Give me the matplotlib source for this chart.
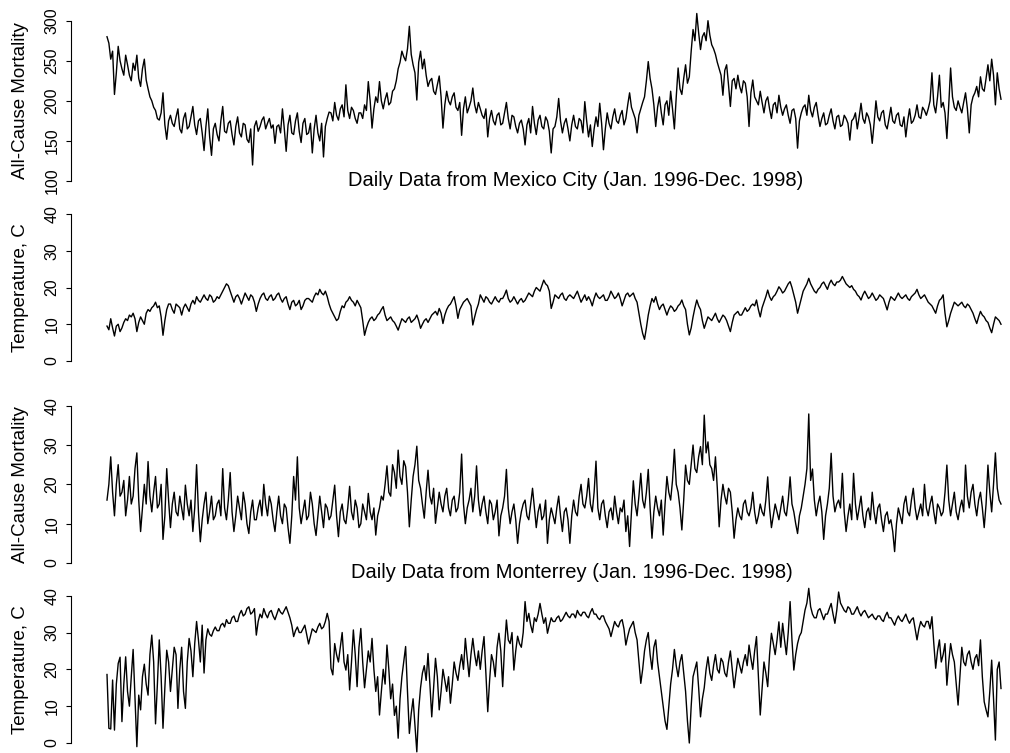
import numpy as np
import matplotlib.pyplot as plt

plt.rcParams['font.family'] = ['Liberation Sans', 'DejaVu Sans']

# daily series Jan 1996 - Dec 1998 (about one value every 2.3 days)
mex_mort = [
    280, 272, 252, 262, 208, 235, 268, 250, 240, 232, 257, 245, 232, 225, 247, 238, 257, 228, 218, 240,
    252, 226, 215, 205, 200, 192, 188, 178, 176, 185, 210, 170, 152, 175, 182, 172, 168, 180, 190, 165,
    160, 178, 185, 165, 168, 180, 193, 170, 158, 175, 178, 160, 138, 168, 190, 155, 132, 165, 172, 158,
    150, 175, 193, 162, 160, 172, 175, 158, 145, 168, 180, 160, 155, 172, 170, 152, 148, 165, 120, 168,
    175, 162, 168, 176, 180, 165, 172, 178, 166, 170, 147, 168, 170, 160, 190, 165, 137, 170, 182, 160,
    158, 175, 185, 162, 148, 172, 178, 158, 160, 172, 135, 165, 182, 160, 150, 172, 130, 168, 178, 186,
    185, 175, 198, 182, 176, 190, 195, 180, 220, 188, 178, 192, 188, 178, 172, 185, 185, 178, 195, 188,
    224, 200, 166, 190, 205, 198, 224, 200, 190, 202, 210, 195, 198, 212, 215, 225, 240, 248, 262, 255,
    250, 265, 293, 258, 245, 235, 201, 248, 262, 240, 252, 232, 218, 225, 228, 212, 208, 220, 231, 205,
    166, 195, 212, 200, 195, 205, 210, 192, 188, 198, 157, 190, 205, 185, 192, 200, 216, 195, 185, 198,
    190, 182, 178, 190, 155, 178, 188, 175, 170, 182, 185, 170, 172, 185, 198, 178, 165, 182, 180, 168,
    160, 172, 176, 165, 145, 170, 178, 160, 193, 172, 158, 176, 182, 168, 165, 180, 175, 162, 135, 165,
    168, 180, 203, 175, 160, 172, 178, 165, 150, 170, 182, 168, 165, 178, 175, 160, 199, 175, 155, 170,
    143, 165, 180, 168, 197, 172, 139, 165, 185, 172, 165, 180, 190, 175, 172, 182, 188, 170, 178, 195,
    210, 192, 185, 178, 160, 182, 190, 198, 205, 225, 249, 228, 215, 195, 168, 192, 205, 185, 170, 195,
    200, 182, 212, 190, 165, 205, 241, 215, 208, 228, 245, 222, 230, 262, 289, 275, 309, 285, 264, 280,
    285, 275, 300, 282, 270, 265, 258, 248, 240, 232, 207, 238, 245, 220, 193, 225, 228, 215, 232, 218,
    210, 225, 222, 205, 168, 210, 226, 205, 200, 195, 212, 198, 185, 200, 205, 190, 178, 195, 198, 185,
    207, 192, 182, 190, 195, 182, 172, 188, 190, 178, 141, 175, 185, 192, 195, 182, 207, 188, 180, 192,
    198, 182, 168, 178, 185, 170, 172, 182, 190, 175, 165, 180, 182, 168, 170, 182, 178, 172, 151, 175,
    178, 185, 165, 180, 197, 178, 172, 185, 180, 170, 147, 172, 200, 180, 175, 185, 188, 170, 165, 178,
    192, 175, 172, 182, 185, 170, 168, 180, 155, 175, 190, 172, 175, 182, 195, 180, 178, 192, 188, 182,
    190, 200, 235, 195, 185, 205, 232, 192, 198, 185, 153, 195, 241, 205, 192, 188, 200, 192, 185, 198,
    210, 190, 160, 195, 205, 210, 218, 205, 230, 215, 212, 228, 245, 225, 252, 232, 195, 235, 215, 202,
]
mex_temp = [
    9.5, 8.5, 11.5, 9, 6.8, 9.5, 10, 8, 9, 10.5, 11.5, 11, 12.5, 12, 13, 11.5, 8, 10.5, 12, 11,
    10, 13, 14, 13.5, 14.5, 15, 16, 14.5, 15, 12, 7, 11, 14, 15.5, 15.5, 14, 13, 15.5, 15, 14.5,
    12.5, 14.5, 15.5, 14.5, 13.5, 15.5, 16.5, 15.5, 17.5, 16.5, 16, 17, 18, 17, 16.5, 18, 17.5, 16, 16.5, 17.5,
    17, 18, 19, 20, 21, 20.5, 19, 17.5, 16, 17.5, 18, 17, 15.5, 17, 18.5, 17.5, 16.5, 18, 17.5, 16,
    13.5, 15.5, 17, 18, 18.5, 17, 16.5, 17.5, 18, 16.5, 17, 18, 18.5, 17, 16, 17, 17.5, 15.5, 14, 16,
    16.5, 15, 15.5, 16.5, 14, 15, 16.5, 17, 17, 16.5, 16, 17.5, 18.5, 18, 19.5, 18.5, 18, 19, 17.5, 15.5,
    14, 13, 12, 11, 11.5, 13.5, 15, 14.5, 16, 16.5, 17.5, 16.5, 16, 15, 16.5, 15.5, 14.5, 11, 7, 9,
    10.5, 11.5, 12, 11, 11.5, 12.5, 13, 14, 14.8, 12.5, 11, 11.5, 12, 11, 10.5, 9.5, 8.4, 10, 11.5, 11,
    10.5, 11.5, 12, 10.5, 11, 11.5, 12.5, 11, 8.9, 10, 11, 11.5, 10.5, 11.5, 12.5, 13, 13.5, 12.5, 14.3, 13,
    10.2, 12.5, 14, 15, 15.5, 16.5, 17.5, 15, 11.6, 14, 15, 16, 16.5, 17, 16, 15, 9.8, 12, 14, 15.5,
    18, 17, 16, 17.5, 17, 16, 15.5, 16.5, 17.5, 16.5, 16, 17, 17, 18, 19.3, 17, 16, 16.5, 17.5, 16.5,
    15.5, 16.5, 17, 16, 16.5, 17.5, 18.5, 18, 17.5, 19, 20, 19.5, 19, 20.5, 22, 21, 20.5, 19, 14.3, 16,
    18, 17.5, 17, 18, 18.5, 17, 16.5, 17.5, 18, 17.5, 17, 18, 19, 17.5, 16, 17, 18, 16.5, 17.5, 16.5,
    15, 17, 18.5, 17.5, 17, 17.5, 18, 16.5, 16.5, 17.5, 19, 18, 17, 17.5, 18.5, 17, 15, 16.5, 18, 18.5,
    17.5, 18, 18.5, 17, 16, 13, 10, 7.5, 5.9, 9, 12.5, 15, 17, 16, 17.5, 15.5, 14, 15, 15.5, 14,
    12.5, 14, 15, 14.5, 13.5, 14, 15, 15.5, 16.6, 15, 14, 10, 7.1, 9, 12, 14.5, 16.6, 15, 14, 11,
    8.9, 10.5, 12, 11.5, 11, 12, 13, 11.5, 10.5, 11.5, 12.5, 12, 11, 9.5, 8, 10.5, 12.5, 13, 13.5, 12.5,
    12.5, 13.5, 14.5, 13.5, 14, 15, 15.5, 15, 16.6, 14, 12, 14.5, 16, 17.5, 19.3, 17.5, 16.5, 17.5, 18, 19,
    20.2, 19.5, 18.5, 19, 20, 21, 21.6, 20, 18, 16, 13, 15, 17, 19, 20, 21, 22.5, 21, 20, 19,
    18.5, 19.5, 20, 21, 21.5, 20.5, 19.5, 21, 22, 21, 20.5, 21.5, 21.5, 22, 23, 22, 21, 20.5, 20, 20.5,
    19.5, 19, 18, 17.5, 16.6, 18, 19, 18, 17, 17.5, 18.5, 17.5, 16.5, 17, 18, 17.5, 17, 15.5, 13.9, 16,
    17.5, 17, 16.5, 17.5, 18.5, 17.5, 17, 17.5, 18, 17, 16.5, 17.5, 18, 18.5, 19.5, 18, 17, 17.5, 18, 17,
    16, 15.5, 15, 14, 13, 15, 16.5, 17, 18, 13, 9.3, 11, 13, 14.5, 16, 15.5, 15, 15.5, 16, 15,
    14.5, 15.5, 15, 14, 13, 11.5, 10.2, 12, 13.5, 12.5, 12, 11, 10.5, 9, 7.7, 10, 12, 11.5, 11, 10,
]
mty_mort = [
    16, 20, 27, 18, 12, 20, 25, 17, 18, 21, 12, 16, 22, 15, 17, 24, 28, 16, 8, 14,
    20, 15, 25.8, 17, 13, 18, 22, 14, 15, 20, 6, 12, 24, 16, 9, 15, 18, 13, 12, 17,
    14, 11, 19.8, 15, 12, 16, 8, 14, 25, 13, 5.4, 11, 15, 18, 10, 13, 17, 11, 12, 15,
    16, 12, 24, 14, 11, 16, 23, 13, 8, 12, 17, 14, 11, 18, 15, 10, 7.5, 13, 16, 11,
    11, 14, 16, 12, 20, 15, 12, 17, 15, 11, 8, 13, 17, 12, 10, 15, 14, 9, 5, 12,
    22, 16, 27, 14, 10, 13, 16, 11, 12, 18, 15, 10, 7, 12, 17, 13, 9, 15, 14, 11,
    12, 16, 19.8, 12, 6.7, 13, 15, 11, 10, 14, 19.5, 13, 11, 16, 14, 9, 10, 15, 13, 11,
    17.7, 13, 11, 14, 7.1, 12, 14, 17, 16, 20, 24.7, 18, 17, 25, 23, 19, 28.7, 22, 20, 26,
    24.5, 18, 9.2, 16, 22, 25, 29.7, 21, 19, 15, 11.4, 18, 23.6, 17, 15, 19, 10.1, 14, 18, 15,
    13, 17, 19, 14, 12, 16, 17, 13, 14, 18, 27.7, 15, 10, 14, 16, 19, 13, 17, 24.7, 16,
    12, 15, 17, 13, 10, 16, 15, 11, 13, 16, 6.9, 12, 14, 17, 23.8, 14, 10, 13, 15, 11,
    5, 10, 13, 15, 16, 12, 11, 15, 19, 14, 9, 13, 15, 11, 12, 16, 5, 11, 14, 12,
    10, 14, 17, 12, 8, 13, 14, 11, 5, 12, 16, 13, 12, 17, 20, 15, 14, 17, 21.5, 15,
    13, 18, 25.9, 14, 11, 15, 16, 12, 9, 13, 14, 11, 17, 13, 10, 14, 13, 16, 8, 12,
    4.2, 13, 20.9, 15, 12, 17, 22.8, 16, 14, 18, 23.8, 14, 6.3, 13, 17, 14, 12, 16, 7.1, 15,
    22, 18, 16, 21, 28.9, 20, 18, 14, 8.4, 16, 24.9, 21, 20, 25, 30, 24, 23, 27, 29.6, 25,
    37.6, 28, 30.8, 25, 24, 21, 27, 19, 9.2, 16, 20, 17, 15, 19, 18, 13, 6.3, 11, 14, 12,
    11, 15, 16, 13, 12, 14, 18, 13, 10, 12, 15, 13, 12, 16, 21.9, 14, 9, 12, 15, 13,
    11, 14, 17, 13, 12, 16, 21.9, 15, 13, 10, 7.5, 12, 14, 17, 20, 24, 37.9, 21, 23.9, 16,
    12, 15, 17, 13, 6, 12, 15, 19, 27.9, 17, 13, 15, 16, 14, 22.8, 13, 8, 12, 15, 11,
    22.8, 15, 11, 14, 17, 12, 9, 13, 14, 11, 18, 13, 10, 14, 15, 11, 8, 12, 13, 10,
    11, 8, 2.9, 10, 14, 12, 10, 15, 17, 13, 12, 16, 19, 14, 11, 13, 15, 12, 20, 14,
    12, 15, 17, 13, 10, 15, 14, 12, 13, 18, 24.9, 16, 12, 15, 18, 13, 11, 14, 16, 13,
    24.9, 17, 14, 18, 20, 15, 12, 16, 18, 14, 9, 15, 24.9, 18, 13, 20, 28, 19, 16, 15,
]
mty_temp = [
    18.6, 4, 3.8, 17.1, 3.5, 16, 21.6, 23.3, 5.8, 16, 23.4, 14, 10, 18, 25.4, 12, -1, 13, 9, 18,
    21.4, 16, 13, 24, 29.3, 22, 5.2, 16, 28, 18, 4, 15, 25.2, 22, 14, 20, 26, 24, 9.4, 20,
    26, 14, 9.4, 22, 28.4, 25, 18, 27, 33, 28, 22, 32, 19, 28, 31, 29.5, 29, 30.5, 31.5, 30.5,
    30.5, 32, 32.5, 31.5, 33.5, 32.5, 32.5, 34, 34.5, 33, 33, 35, 36, 34.5, 35, 36.5, 37, 35, 35.5, 36.5,
    29.3, 33, 35, 34, 36.5, 35, 34, 35.5, 36, 34.5, 33.5, 35, 36.5, 35.5, 35, 36, 37, 35.5, 34, 32,
    28.9, 30.5, 31.5, 30, 30, 31, 32, 29.5, 26.9, 29, 31, 30.5, 30, 31.5, 32.5, 31, 31.5, 33, 35.2, 33,
    20.3, 18.5, 27, 24, 22, 26, 30, 22, 19.8, 24, 14.4, 22, 30.7, 24, 15.3, 26, 31.1, 22, 15, 20,
    25, 22, 28.4, 20, 14, 18, 7.6, 14, 20, 16, 26.6, 20, 12, 16, 7.5, 10, 1.3, 12, 18, 22,
    26.2, 14, 2.6, 8, 12, 5, -2.4, 9, 15, 19, 21, 17, 24.3, 16, 7.1, 15, 23, 18, 9, 14,
    20, 17, 14, 18, 10.8, 16, 22, 19, 17, 21, 24, 20, 28.4, 23, 18, 24, 28.4, 24, 21, 25,
    20, 25, 28.9, 19, 8.5, 17, 24, 22, 18, 26, 29.8, 25, 15.3, 26, 33.4, 28, 27, 30, 19.8, 25,
    29, 27, 26, 30, 38.4, 33, 35.2, 32, 30, 34, 33, 35, 37.9, 35, 32.5, 34, 29.8, 32, 34, 33,
    33, 34, 34.5, 33, 33.5, 34.5, 35.5, 34.5, 34, 35, 35, 34, 36, 35, 34.5, 35.5, 35.5, 34.5, 34, 35.5,
    36.5, 35, 35, 34, 33.5, 34.5, 34.5, 33, 32, 31, 28.9, 31, 33, 32, 31.5, 33, 33.5, 31, 26.6, 29,
    31, 32, 33, 30, 28, 22, 16.2, 20, 25, 28, 30, 24, 20, 26, 28, 22, 18, 14, 9.9, 6,
    3.7, 10, 16, 20, 25.4, 21, 18, 22, 24, 19, 14, 6, 0, 10, 18, 20, 22, 15, 7.1, 12,
    15, 20, 23.4, 19, 17, 21, 24, 20, 19, 23, 22, 19, 18, 22, 25, 20, 15, 19, 23, 21,
    19, 22, 24, 21, 26.6, 23, 20, 25, 28.9, 18, 7.6, 15, 22, 19, 15.3, 24, 29.8, 27, 24, 28,
    32.9, 26, 32.5, 28, 24, 30, 38.4, 28, 19.8, 24, 27, 29, 30, 33, 36.1, 38, 42, 37, 35, 34,
    34, 36, 36.5, 35, 33.5, 35, 35, 36.5, 37.9, 35, 32.5, 36, 41, 38, 37, 36, 35.5, 37, 36.5, 35,
    35, 36, 37, 35.5, 34.5, 35.5, 36, 35, 34, 34.5, 35, 34, 33.5, 34.5, 34.5, 33.5, 33, 34.5, 35.5, 34,
    34, 33, 32, 33.5, 34.5, 33.5, 33, 34, 35, 33.5, 32.5, 33.5, 34, 31, 28, 31, 33, 32, 31.5, 33,
    33, 31, 34.3, 27, 20.3, 25, 28, 22, 24, 27, 15.7, 22, 27, 24, 22, 16, 10.3, 18, 26, 22,
    21, 24, 25, 22, 20, 23, 24, 21, 28, 18, 11.2, 9, 7.1, 14, 22.5, 12, 0.8, 20, 22, 14.8,
]

mort_ticks = [100, 150, 200, 250, 300]
temp_ticks = [0, 10, 20, 30, 40]
n_days = 1095

W, H = 1010, 753
fig = plt.figure(figsize=(W / 100, H / 100), dpi=100)

left_px, right_px = 70.7, 1010
x0_px, x1_px = 107, 1001
px_per_day = (x1_px - x0_px) / n_days


def panel(values, ticks, lo_px, hi_px, top_px, bot_px, ylabel):
    lo, hi = ticks[0], ticks[-1]
    scale = (lo_px - hi_px) / (hi - lo)
    ax = fig.add_axes([left_px / W, 1 - bot_px / H,
                       (right_px - left_px) / W, (bot_px - top_px) / H])
    days = np.linspace(0, n_days, len(values))
    ax.plot(days, values, color='black', lw=1.0)
    ax.set_xlim(-(x0_px - left_px) / px_per_day, n_days + (right_px - x1_px) / px_per_day)
    ax.set_ylim(lo - (bot_px - lo_px) / scale, hi + (hi_px - top_px) / scale)
    for s in ['top', 'right', 'bottom']:
        ax.spines[s].set_visible(False)
    ax.spines['left'].set_bounds(lo, hi)
    ax.spines['left'].set_linewidth(0.8)
    ax.set_yticks(ticks)
    ax.set_xticks([])
    ax.tick_params(axis='y', length=3.6, width=0.8, pad=4.5, labelsize=11.5, labelrotation=90)
    for t in ax.get_yticklabels():
        t.set_va('center')
    fig.text(21 / W, 1 - (lo_px + hi_px) / 2 / H, ylabel, rotation=90,
             ha='center', va='center', fontsize=13.5)
    ax.patch.set_visible(False)
    return ax


panel(mex_mort, mort_ticks, 181, 20.7, 5, 190, 'All-Cause Mortality')
panel(mex_temp, temp_ticks, 361, 214, 196, 372, 'Temperature, C')
panel(mty_mort, temp_ticks, 563, 405.7, 390, 566, 'All-Cause Mortality')
panel(mty_temp, temp_ticks, 743, 595.7, 585, 753, 'Temperature, C')

fig.text(576 / W, 1 - 186 / H, 'Daily Data from Mexico City (Jan. 1996-Dec. 1998)',
         ha='center', va='baseline', fontsize=14.5)
fig.text(572 / W, 1 - 578 / H, 'Daily Data from Monterrey (Jan. 1996-Dec. 1998)',
         ha='center', va='baseline', fontsize=14.5)

fig.savefig('out.png', dpi=100)
